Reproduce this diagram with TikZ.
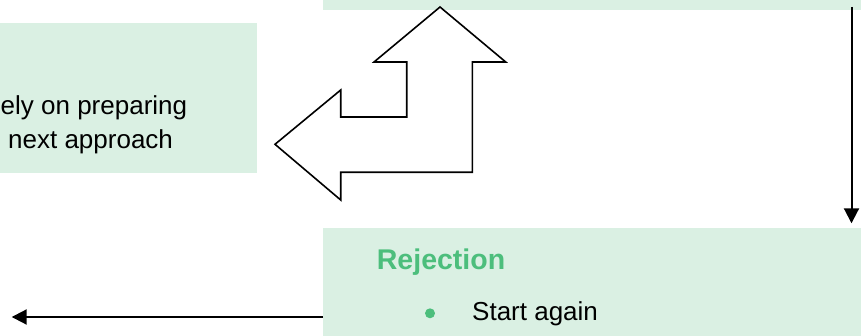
\documentclass[tikz,border=0pt]{standalone}
\usepackage{fontspec}
\setmainfont{Liberation Sans}
\usetikzlibrary{arrows.meta}
\definecolor{boxfill}{RGB}{218,240,227}
\definecolor{headgreen}{RGB}{76,190,124}
\begin{document}
\begin{tikzpicture}[x=1pt,y=-1pt,
  box/.style={fill=boxfill,draw=none,inner sep=0pt,outer sep=0pt,anchor=north west},
  txt/.style={inner sep=0pt,anchor=base west,font=\fontsize{26}{30}\selectfont},
  headtxt/.style={inner sep=0pt,anchor=base west,text=headgreen,font=\fontsize{28.5}{32}\selectfont\bfseries},
  conn/.style={line width=2pt,-{Triangle[length=15pt,width=15pt]}},
  bentarrow/.style={line width=1.6pt,draw=black,fill=white,line join=miter}]
\useasboundingbox (0,0) rectangle (861,336);
% boxes
\node[box,minimum width=256.7pt,minimum height=150pt] (left) at (0,22.7) {};
\node[box,minimum width=545pt,minimum height=15pt] (top) at (323,-5) {};
\node[box,minimum width=545pt,minimum height=115pt] (rej) at (323,228.3) {};
% texts
\node[txt] (l1) at (0.5,115) {ely on preparing};
\node[txt] (l2) at (8,149) {next approach};
\node[headtxt] (rt) at (376.7,270) {Rejection};
\node[circle,fill=headgreen,minimum size=10pt,inner sep=0pt] (bul) at (430,313.3) {};
\node[txt] (sa) at (472,320.7) {Start again};
% bent arrow shape
\draw[bentarrow] (440,7) -- (505.7,62) -- (472.3,62) -- (472.3,172.3) -- (340.7,172.3)
  -- (340.7,200) -- (275,144.3) -- (340.7,90) -- (340.7,117) -- (406.7,117)
  -- (406.7,62) -- (374,62) -- cycle;
% connectors
\coordinate (vs) at (851.5,7);
\draw[conn,shorten >=5pt] (vs) -- (vs |- rej.north);
\coordinate (he) at (11.7,317);
\draw[conn] (rej.west |- he) -- (he);
\end{tikzpicture}
\end{document}
